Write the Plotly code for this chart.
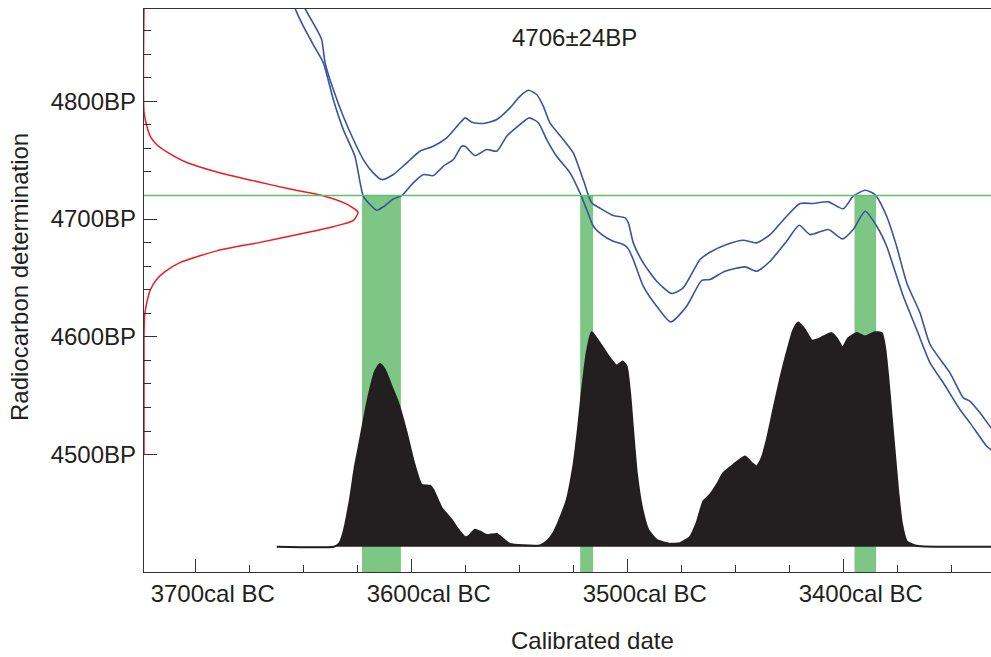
import plotly.graph_objects as go

# Radiocarbon measurement
C14_AGE = 4706
C14_ERR = 24
INTERCEPT_BP = 4720

# Measurement probability (relative) against radiocarbon age, BP
meas_bp = [4880, 4791, 4779, 4770, 4763, 4757, 4748, 4740, 4732.6, 4725.5, 4719.8,
           4712.7, 4705.7, 4698.6, 4693.5, 4687.3, 4680.2, 4673, 4663, 4655,
           4648, 4640, 4629, 4618, 4600, 4500]
meas_prob = [0, 0, 0.013, 0.030, 0.060, 0.106, 0.200, 0.340, 0.509, 0.682, 0.836,
             0.947, 1.0, 0.977, 0.883, 0.729, 0.542, 0.340, 0.168, 0.095,
             0.056, 0.030, 0.013, 0.003, 0, 0]

# Calibration curve envelope (upper and lower bounds), cal BC vs BP
upper_bc = [3650.8, 3649.4, 3644.8, 3641.7, 3640.1, 3636.3, 3631.7, 3627.0, 3622.4,
            3617.8, 3613.9, 3608.5, 3602.3, 3596.2, 3590.0, 3583.8, 3577.6, 3575.2,
            3572.2, 3566.9, 3560.6, 3554.5, 3549.9, 3546.0, 3542.1, 3539.1, 3536.0,
            3529.8, 3525.2, 3520.6, 3516.7, 3512.8, 3506.7, 3501.2, 3499.7, 3497.4,
            3492.8, 3486.6, 3479.6, 3474.3, 3466.5, 3461.9, 3454.2, 3446.5, 3440.3,
            3434.1, 3426.4, 3420.2, 3414.1, 3407.1, 3400.2, 3395.6, 3390.1, 3385.5,
            3380.1, 3375.5, 3370.8, 3364.7, 3360.0, 3350.8, 3344.6, 3341.5, 3336.9,
            3331.8, 3328.0]
upper_bp = [4886, 4878.7, 4863.7, 4852.4, 4832.6, 4809.9, 4787.3, 4767.5, 4750.5,
            4739.2, 4733.5, 4737.8, 4747.7, 4757.6, 4761.8, 4768.9, 4781.7, 4785.9,
            4782.2, 4781.1, 4784.5, 4794.4, 4804.2, 4809.3, 4805.7, 4795.8, 4781.7,
            4767.5, 4756.2, 4733.5, 4713.8, 4709.2, 4703.0, 4701.0, 4696.8, 4679.8,
            4662.8, 4647.2, 4636.8, 4641.6, 4665.6, 4671.8, 4678.4, 4682.0, 4679.8,
            4686.8, 4702.4, 4713.2, 4713.2, 4714.6, 4708.7, 4719.4, 4724.4, 4720.8,
            4702.4, 4676.9, 4645.8, 4620.4, 4593.5, 4569.4, 4548.2, 4545.3, 4535.5,
            4522.8, 4515.0]

lower_bc = [3655.5, 3654.0, 3650.2, 3645.6, 3640.9, 3636.3, 3631.7, 3626.3, 3622.4,
            3619.3, 3616.2, 3613.1, 3608.5, 3604.6, 3599.3, 3594.6, 3590.0, 3585.4,
            3580.7, 3576.9, 3575.3, 3570.7, 3565.3, 3560.6, 3556.0, 3549.9, 3545.6,
            3541.4, 3537.5, 3532.9, 3526.7, 3522.1, 3519.0, 3515.9, 3512.0, 3506.7,
            3502.0, 3499.7, 3497.4, 3492.8, 3486.6, 3480.1, 3472.7, 3465.7, 3461.9,
            3455.0, 3445.7, 3440.3, 3434.1, 3426.4, 3420.6, 3415.6, 3407.1, 3400.5,
            3395.6, 3390.1, 3384.7, 3380.1, 3377.0, 3372.4, 3366.2, 3360.0, 3353.9,
            3346.2, 3341.5, 3333.8, 3331.8, 3328.0]
lower_bp = [4886, 4878.7, 4863.7, 4848.1, 4832.6, 4801.4, 4776.0, 4753.3, 4719.4,
            4712.3, 4707.5, 4710.4, 4717.1, 4720.0, 4730.7, 4737.8, 4736.9, 4744.8,
            4750.5, 4761.8, 4761.8, 4753.9, 4759.0, 4757.6, 4770.3, 4780.2, 4785.9,
            4781.7, 4767.5, 4753.3, 4739.2, 4722.2, 4708.1, 4693.9, 4686.8, 4681.2,
            4678.4, 4674.7, 4665.6, 4643.0, 4626.0, 4612.7, 4626.0, 4648.0, 4648.6,
            4655.7, 4659.4, 4655.7, 4664.2, 4681.2, 4694.7, 4686.8, 4691.1, 4683.2,
            4691.1, 4706.6, 4693.9, 4676.9, 4659.9, 4634.5, 4606.2, 4577.9, 4561.0,
            4538.3, 4527.0, 4507.1, 4504.3, 4499.0]

# Calibrated date probability distribution (relative to maximum)
cal_bc = [3662.5, 3636.0, 3633.5, 3631.7, 3628.6, 3626.3, 3623.9, 3621.6, 3619.3, 3617.0,
          3614.7, 3612.4, 3609.3, 3606.2, 3602.3, 3599.3, 3595.4, 3591.5, 3590.0,
          3586.1, 3581.5, 3578.4, 3575.3, 3573.5, 3570.7, 3568.4, 3565.3, 3560.6,
          3557.6, 3554.5, 3548.3, 3540.6, 3537.5, 3534.5, 3531.3, 3528.2, 3525.2,
          3522.9, 3521.3, 3519.0, 3516.7, 3514.4, 3511.3, 3508.2, 3505.1, 3502.3,
          3500.5, 3498.9, 3497.4, 3495.8, 3493.5, 3490.5, 3486.6, 3480.4, 3475.8,
          3471.2, 3468.1, 3465.0, 3461.9, 3458.8, 3455.7, 3451.1, 3445.7, 3442.6,
          3440.3, 3438.0, 3435.6, 3432.6, 3429.5, 3426.4, 3423.3, 3421.0, 3417.9,
          3414.8, 3411.8, 3409.4, 3405.6, 3403.2, 3400.5, 3397.9, 3394.0, 3390.1,
          3385.5, 3382.4, 3380.9, 3379.4, 3377.8, 3376.2, 3374.7, 3373.1, 3370.8,
          3366.2, 3331.8]
cal_prob = [0, 0, 0.015, 0.061, 0.210, 0.358, 0.477, 0.596, 0.700, 0.782,
            0.815, 0.789, 0.715, 0.641, 0.507, 0.388, 0.276, 0.272, 0.254,
            0.173, 0.120, 0.076, 0.043, 0.049, 0.076, 0.068, 0.052, 0.057,
            0.034, 0.012, 0.006, 0.006, 0.024, 0.060, 0.128, 0.210, 0.358,
            0.536, 0.685, 0.864, 0.957, 0.930, 0.886, 0.841, 0.808, 0.826,
            0.804, 0.685, 0.507, 0.329, 0.180, 0.076, 0.031, 0.013, 0.016,
            0.043, 0.106, 0.202, 0.232, 0.276, 0.329, 0.366, 0.403, 0.373,
            0.358, 0.395, 0.477, 0.611, 0.745, 0.864, 0.967, 1.000, 0.967,
            0.920, 0.926, 0.938, 0.953, 0.930, 0.889, 0.930, 0.953, 0.938,
            0.957, 0.953, 0.893, 0.759, 0.581, 0.403, 0.239, 0.106, 0.024,
            0.004, 0]

# 1-sigma calibrated ranges (from, to) cal BC
range_from = [3623, 3522, 3395]
range_to = [3605, 3516, 3385]

# Axis ticks
x_major = [3700, 3600, 3500, 3400]
x_labels = [f"{v}cal BC" for v in x_major]
y_major = [4500, 4600, 4700, 4800]
y_labels = [f"{v}BP" for v in y_major]

FONT = "Liberation Sans, Arial, sans-serif"
INK = "#231f20"
AXIS = "#333333"
BLUE = "#3953a4"
RED = "#ed1c24"
GREEN = "#7dc684"
GREEN_LINE = "#63bf6b"

fig = go.Figure()

# Calibrated distribution (black silhouette) on its own probability axis
fig.add_trace(go.Scatter(
    x=cal_bc, y=cal_prob, xaxis="x", yaxis="y2", mode="lines",
    line=dict(color=INK, width=2, shape="spline", smoothing=0.5),
    fill="tozeroy", fillcolor=INK, hoverinfo="skip", showlegend=False))

# Calibration curve envelope
fig.add_trace(go.Scatter(
    x=upper_bc, y=upper_bp, mode="lines",
    line=dict(color=BLUE, width=1.6, shape="spline", smoothing=0.6),
    hoverinfo="skip", showlegend=False))
fig.add_trace(go.Scatter(
    x=lower_bc, y=lower_bp, mode="lines",
    line=dict(color=BLUE, width=1.6, shape="spline", smoothing=0.6),
    hoverinfo="skip", showlegend=False))

# Radiocarbon measurement distribution along the vertical axis
fig.add_trace(go.Scatter(
    x=meas_prob, y=meas_bp, xaxis="x2", yaxis="y", mode="lines",
    line=dict(color=RED, width=1.5, shape="spline", smoothing=0.6),
    hoverinfo="skip", showlegend=False))

shapes = []
for a, b in zip(range_from, range_to):
    shapes.append(dict(type="rect", xref="x", yref="y", x0=a, x1=b,
                       y0=4300, y1=INTERCEPT_BP, fillcolor=GREEN,
                       line=dict(width=0), layer="below"))
shapes.append(dict(type="line", xref="paper", yref="y", x0=0, x1=1,
                   y0=INTERCEPT_BP, y1=INTERCEPT_BP,
                   line=dict(color=GREEN_LINE, width=1.3), layer="above"))

y_minor = [v for v in range(4520, 4880, 20) if v % 100]

fig.update_layout(
    width=991, height=657,
    margin=dict(l=144, r=0, t=9, b=85),
    paper_bgcolor="white", plot_bgcolor="white",
    font=dict(family=FONT, size=24, color=INK),
    shapes=shapes,
    xaxis=dict(
        range=[3723.94, 3331.8], showgrid=False, zeroline=False,
        showline=True, linecolor=AXIS, linewidth=1.3, mirror=True,
        tickmode="array", tickvals=x_major, ticktext=x_labels,
        ticks="inside", ticklen=13, tickwidth=1.2, tickcolor=AXIS,
        ticklabelshift=-17, ticklabelstandoff=0,
        minor=dict(tickmode="linear", tick0=3700, dtick=25, ticks="inside",
                   ticklen=7, tickwidth=1.2, tickcolor=AXIS, showgrid=False),
        tickfont=dict(family=FONT, size=24, color=INK),
    ),
    yaxis=dict(
        range=[4400.4, 4878.3], showgrid=False, zeroline=False,
        showline=True, linecolor=AXIS, linewidth=1.3,
        tickmode="array", tickvals=y_major, ticktext=y_labels,
        ticks="inside", ticklen=13, tickwidth=1.2, tickcolor=AXIS,
        ticklabelstandoff=2,
        minor=dict(tickmode="array", tickvals=y_minor, ticks="inside",
                   ticklen=7, tickwidth=1.2, tickcolor=AXIS, showgrid=False),
        tickfont=dict(family=FONT, size=24, color=INK),
    ),
    xaxis2=dict(overlaying="x", range=[0, 847 / 214], visible=False),
    yaxis2=dict(overlaying="y", range=[-0.1128, 2.399], visible=False),
    annotations=[
        dict(text=f"{C14_AGE}±{C14_ERR}BP", xref="paper", yref="paper",
             x=0.5077, y=0.9494, xanchor="center", yanchor="middle",
             showarrow=False, font=dict(family=FONT, size=24, color=INK)),
        dict(text="Calibrated date", xref="paper", yref="paper",
             x=0.530, y=-0.1208, xanchor="center", yanchor="middle",
             showarrow=False, font=dict(family=FONT, size=24, color=INK)),
        dict(text="Radiocarbon determination", xref="paper", yref="paper",
             x=-0.1464, y=0.524, xanchor="center", yanchor="middle",
             textangle=-90, showarrow=False,
             font=dict(family=FONT, size=24, color=INK)),
    ],
)

fig.write_html("out.html")
